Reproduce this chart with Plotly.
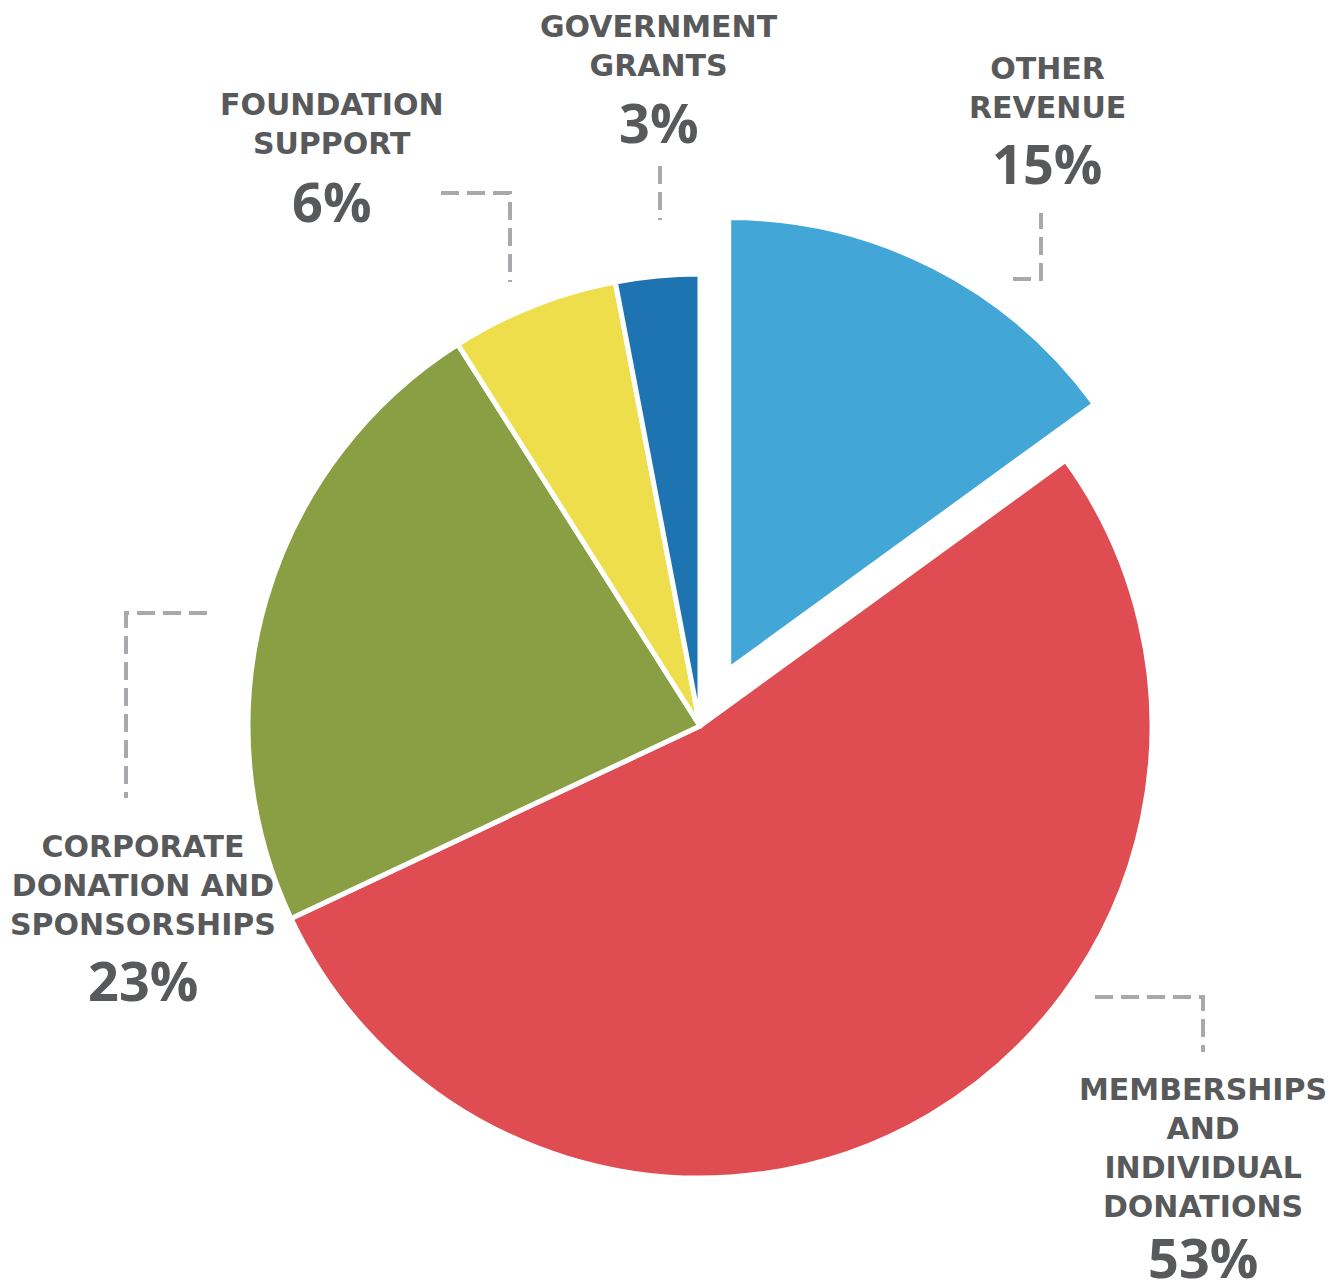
import plotly.graph_objects as go

# ---- data ----
categories = ["OTHER REVENUE",
              "MEMBERSHIPS AND INDIVIDUAL DONATIONS",
              "CORPORATE DONATION AND SPONSORSHIPS",
              "FOUNDATION SUPPORT",
              "GOVERNMENT GRANTS"]
label_lines = [["OTHER", "REVENUE"],
               ["MEMBERSHIPS", "AND", "INDIVIDUAL", "DONATIONS"],
               ["CORPORATE", "DONATION AND", "SPONSORSHIPS"],
               ["FOUNDATION", "SUPPORT"],
               ["GOVERNMENT", "GRANTS"]]
values = [15, 53, 23, 6, 3]
colors = ["#42A6D6", "#DF4C51", "#8A9F44", "#EEDE4B", "#1D74B0"]
pulls = [0.14, 0, 0, 0, 0]

# ---- layout helpers (target pixel -> paper; page has an 8px body offset) ----
W, H = 1342, 1286
OFF = 8
TEXT = "#58595B"
DASH = "#A7A9AC"
LABEL_FONT = "DejaVu Sans"
PCT_FONT = "Open Sans"


def px(x):
    return (x - OFF) / W


def py(y):
    return 1 - (y - OFF) / H


cx, cy, r = 700, 726, 452
half = r * (1 + max(pulls))

fig = go.Figure(go.Pie(
    values=values,
    labels=categories,
    marker=dict(colors=colors, line=dict(color="white", width=5)),
    pull=pulls,
    sort=False,
    direction="clockwise",
    rotation=0,
    textinfo="none",
    hoverinfo="label+percent",
    showlegend=False,
    domain=dict(x=[px(cx - half), px(cx + half)],
                y=[py(cy + half), py(cy - half)]),
))

# label placement (pixel centres of name block and percent)
label_pos = [
    (1047, 88, 163),
    (1203, 1148, 1257),
    (143, 885, 980),
    (332, 124, 201),
    (659, 46, 122),
]

annotations = []
for lines, v, (lx, ly, pyy) in zip(label_lines, values, label_pos):
    annotations.append(dict(
        x=px(lx), y=py(ly), xref="paper", yref="paper",
        text="<br>".join(lines), showarrow=False,
        xanchor="center", yanchor="middle", align="center",
        font=dict(family=LABEL_FONT, size=30, color=TEXT, weight=700)))
    annotations.append(dict(
        x=px(lx), y=py(pyy), xref="paper", yref="paper",
        text=f"{v}%", showarrow=False,
        xanchor="center", yanchor="middle", align="center",
        font=dict(family=PCT_FONT, size=54, color=TEXT, weight=700)))

# dashed leader lines (pixel polylines)
leaders = [
    [(1013, 279), (1041, 279), (1041, 213)],
    [(1095, 997), (1203, 997), (1203, 1052)],
    [(207, 613), (126, 613), (126, 798)],
    [(441, 193), (510, 193), (510, 282)],
    [(660, 166), (660, 220)],
]
shapes = []
for pts in leaders:
    path = "M " + " L ".join(f"{px(x):.5f},{py(y):.5f}" for x, y in pts)
    shapes.append(dict(type="path", path=path, xref="paper", yref="paper",
                       line=dict(color=DASH, width=4, dash="18px,8px")))

fig.update_layout(
    width=W, height=H,
    margin=dict(l=0, r=0, t=0, b=0),
    paper_bgcolor="white", plot_bgcolor="white",
    showlegend=False,
    annotations=annotations,
    shapes=shapes,
)

fig.write_html("out.html")
